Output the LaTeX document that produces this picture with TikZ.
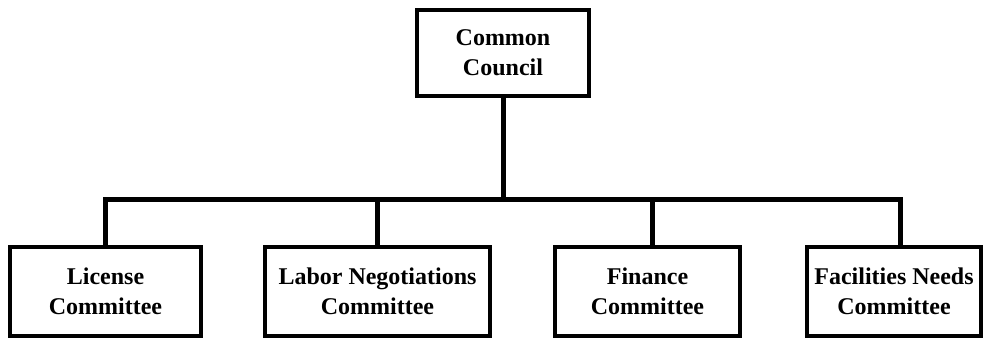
\documentclass[tikz,border=0pt]{standalone}
\usepackage{fontspec}
\setmainfont{Liberation Serif}

\begin{document}
\begin{tikzpicture}[x=1pt, y=1pt,
    box/.style={draw=black, line width=4pt, align=center, inner sep=0pt,
      minimum height=89, font=\fontsize{24}{30}\selectfont\bfseries},
    link/.style={draw=black, line width=5pt, line join=miter}]
  \useasboundingbox (0,0) rectangle (984,341);
  \def\y{49.5}
  \node[box, minimum width=172, minimum height=86] (CC) at (503, 288) {Common\\Council};
  \node[box, minimum width=191] (LC) at (105.5, \y) {License\\Committee};
  \node[box, minimum width=225] (LN) at (377.5, \y) {Labor Negotiations\\Committee};
  \node[box, minimum width=185] (FC) at (647.5, \y) {Finance\\Committee};
  \node[box, minimum width=174] (FN) at (894, \y) {Facilities Needs\\Committee};
  \coordinate (bus) at (503, 142);
  \draw[link] (CC.south) -- (bus);
  \draw[link] (LC.north) -- (LC.north |- bus) -- ([xshift=6pt]FN.north |- bus) -- ([xshift=6pt]FN.north);
  \draw[link] (LN.north) -- (LN.north |- bus);
  \draw[link] ([xshift=4.5pt]FC.north) -- ([xshift=4.5pt]FC.north |- bus);
\end{tikzpicture}
\end{document}
